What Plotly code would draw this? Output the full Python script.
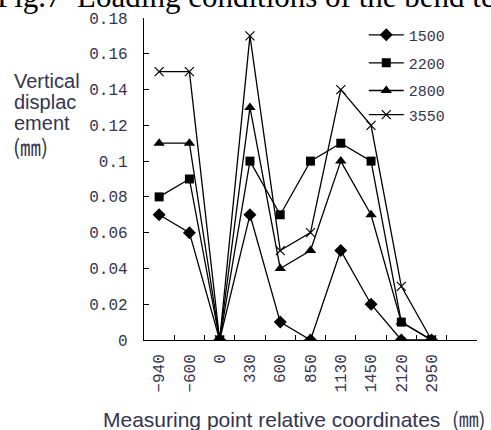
import plotly.graph_objects as go

categories = ["\u2212940", "\u2212600", "0", "330", "600", "850", "1130", "1450", "2120", "2950"]
s1500 = [0.07, 0.06, 0.0, 0.07, 0.01, 0.0, 0.05, 0.02, 0.0, 0.0]
s2200 = [0.08, 0.09, 0.0, 0.10, 0.07, 0.10, 0.11, 0.10, 0.01, 0.0]
s2800 = [0.11, 0.11, 0.0, 0.13, 0.04, 0.05, 0.10, 0.07, 0.01, 0.0]
s3550 = [0.15, 0.15, 0.0, 0.17, 0.05, 0.06, 0.14, 0.12, 0.03, 0.0]
series_names = ["1500", "2200", "2800", "3550"]
y_ticks = [0, 0.02, 0.04, 0.06, 0.08, 0.1, 0.12, 0.14, 0.16, 0.18]
y_tick_labels = ["0", "0.02", "0.04", "0.06", "0.08", "0.1", "0.12", "0.14", "0.16", "0.18"]

xpos = list(range(len(categories)))
n_slots = len(categories) + 1  # one empty slot at the right end of the axis
boundaries = [i - 0.5 for i in range(n_slots + 1)]
txt = "#343450"
mono = "Liberation Mono"
sans = "Liberation Sans, Arial"

legend_ids = ["legend", "legend2", "legend3", "legend4"]
legend_y = [0.947, 0.860, 0.774, 0.699]

fig = go.Figure()
styles = [
    dict(symbol="diamond", size=10),
    dict(symbol="square", size=9),
    dict(symbol="triangle-up", size=10),
    dict(symbol="x-thin-open", size=9, line=dict(width=1.2, color="black")),
]
for name, vals, st, lid in zip(series_names, [s1500, s2200, s2800, s3550], styles, legend_ids):
    fig.add_trace(go.Scatter(
        x=xpos, y=vals, name=name, mode="lines+markers", legend=lid,
        line=dict(color="black", width=1.3),
        marker=dict(color="black", **st),
    ))
# invisible trace that carries the category label axis
fig.add_trace(go.Scatter(x=[xpos[0]], y=[None], xaxis="x2", showlegend=False,
                         hoverinfo="skip", mode="markers", marker=dict(opacity=0)))

xr = [-0.5, n_slots - 0.5]
legend_common = dict(x=0.66, xanchor="left", yanchor="middle", itemwidth=35,
                     bgcolor="rgba(0,0,0,0)", font=dict(family=mono, size=15, color=txt))
legends = {lid: dict(y=ly, **legend_common) for lid, ly in zip(legend_ids, legend_y)}

fig.update_layout(
    width=491, height=430, autosize=False,
    margin=dict(l=144, r=14, t=18, b=90),
    paper_bgcolor="white", plot_bgcolor="white",
    showlegend=True,
    **legends,
    xaxis=dict(
        range=xr, tickmode="array", tickvals=boundaries, ticktext=[""] * len(boundaries),
        ticks="inside", ticklen=5, tickcolor="black", tickwidth=1.2,
        showline=True, linecolor="black", linewidth=1.3, showgrid=False, zeroline=False,
    ),
    xaxis2=dict(
        overlaying="x", anchor="y", side="bottom", range=xr,
        tickmode="array", tickvals=xpos, ticktext=categories,
        ticks="", tickangle=-90, tickfont=dict(family=mono, size=16, color=txt),
        showline=False, showgrid=False, zeroline=False, ticklabelstandoff=10,
    ),
    yaxis=dict(
        range=[0, 0.18], tickmode="array", tickvals=y_ticks, ticktext=y_tick_labels,
        ticks="inside", ticklen=5, tickcolor="black", tickwidth=1.2,
        tickfont=dict(family=mono, size=16, color=txt),
        showline=True, linecolor="black", linewidth=1.3, showgrid=False, zeroline=False,
        ticklabelstandoff=12,
    ),
)

# Title (partially cut off at top of the image)
fig.add_annotation(text="Fig.7  Loading conditions of the bend test", xref="paper", yref="paper",
                   x=0, y=1, xanchor="left", yanchor="bottom", xshift=-149, yshift=2,
                   showarrow=False, font=dict(family="Liberation Serif", size=31, color="black"))

# Y-axis title lines
ylines = ["Vertical", "displac", "ement"]
for i, t in enumerate(ylines):
    fig.add_annotation(text=t, xref="paper", yref="paper", x=0, y=1,
                       xanchor="left", yanchor="middle", xshift=-132, yshift=-(63 + 21 * i),
                       showarrow=False, font=dict(family=sans, size=20, color=txt))
fig.add_annotation(text="(㎜)", xref="paper", yref="paper", x=0, y=1,
                   xanchor="left", yanchor="middle", xshift=-133, yshift=-128,
                   showarrow=False, font=dict(family="Noto Sans CJK SC", size=21, color=txt))

# X-axis title
fig.add_annotation(
    text="Measuring point relative coordinates  <span style='font-family:Noto Sans CJK SC;font-size:20px'>(㎜)</span>",
    xref="paper", yref="paper",
    x=0, y=0, xanchor="left", yanchor="middle", xshift=-43, yshift=-78,
    showarrow=False, font=dict(family=sans, size=21, color=txt))

fig.write_html("out.html", config={"displayModeBar": False},
               post_script="document.body.style.margin='0';document.body.style.overflow='hidden';")
